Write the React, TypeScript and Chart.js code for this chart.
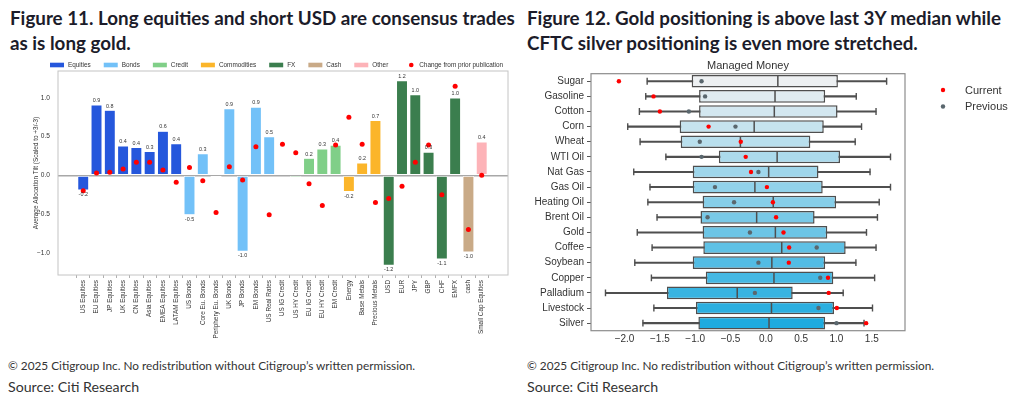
import React, { useEffect, useRef } from 'react';
import { Chart, registerables } from 'chart.js';

Chart.register(...registerables);

// ---------------- Figure 11 data ----------------
const allocCategories = [
  'US Equities', 'EU Equities', 'JP Equities', 'UK Equities', 'CN Equities', 'Asia Equities', 'EMEA Equities', 'LATAM Equities',
  'US Bonds', 'Core Eu. Bonds', 'Periphery Eu. Bonds', 'UK Bonds', 'JP Bonds', 'EM Bonds', 'US Real Rates',
  'US IG Credit', 'US HY Credit', 'EU IG Credit', 'EU HY Credit', 'EM Credit',
  'Energy', 'Base Metals', 'Precious Metals',
  'USD', 'EUR', 'JPY', 'GBP', 'CHF', 'EMFX',
  'cash', 'Small Cap Equities',
];
const allocGroups = [
  'Equities', 'Equities', 'Equities', 'Equities', 'Equities', 'Equities', 'Equities', 'Equities',
  'Bonds', 'Bonds', 'Bonds', 'Bonds', 'Bonds', 'Bonds', 'Bonds',
  'Credit', 'Credit', 'Credit', 'Credit', 'Credit',
  'Commodities', 'Commodities', 'Commodities',
  'FX', 'FX', 'FX', 'FX', 'FX', 'FX',
  'Cash', 'Other',
];
const allocTilt = [
  -0.19, 0.91, 0.84, 0.38, 0.36, 0.31, 0.57, 0.41,
  -0.51, 0.28, -0.02, 0.86, -0.98, 0.88, 0.50,
  -0.01, -0.03, 0.22, 0.34, 0.39,
  -0.21, 0.16, 0.71,
  -1.16, 1.22, 1.04, 0.30, -1.08, 1.00,
  -0.99, 0.43,
];
const changeFromPrior = [
  -0.20, 0.03, 0.04, 0.08, 0.17, 0.17, 0.07, -0.09,
  0.10, -0.07, -0.48, 0.11, -0.06, 0.37, -0.51,
  0.40, 0.29, -0.11, -0.39, 0.39,
  0.75, 0.40, -0.35,
  -0.30, -0.14, 0.17, 0.39, -0.25, 1.15,
  -0.70, 0.00,
];
const allocGroupNames = ['Equities', 'Bonds', 'Credit', 'Commodities', 'FX', 'Cash', 'Other'];
const allocYTicks = [-1.0, -0.5, 0.0, 0.5, 1.0];

// ---------------- Figure 12 data ----------------
const commodities = [
  'Sugar', 'Gasoline', 'Cotton', 'Corn', 'Wheat', 'WTI Oil', 'Nat Gas', 'Gas Oil', 'Heating Oil',
  'Brent Oil', 'Gold', 'Coffee', 'Soybean', 'Copper', 'Palladium', 'Livestock', 'Silver',
];
const whiskerLow = [-1.68, -1.70, -1.79, -1.955, -1.78, -1.415, -1.87, -1.64, -1.67, -1.54, -1.82, -1.61, -1.855, -1.62, -2.27, -1.585, -1.74];
const quartile1 = [-1.05, -0.945, -0.945, -1.22, -1.205, -0.665, -1.035, -1.035, -0.895, -0.925, -0.895, -0.885, -1.035, -0.85, -1.40, -0.99, -0.955];
const medians = [0.17, 0.13, 0.12, -0.165, -0.36, 0.16, 0.04, -0.155, 0.105, -0.13, 0.135, 0.225, 0.085, 0.115, -0.405, 0.08, 0.045];
const quartile3 = [1.02, 0.84, 1.015, 0.82, 0.63, 1.05, 0.745, 0.805, 0.995, 0.69, 0.87, 1.13, 0.84, 0.955, 0.38, 0.965, 0.84];
const whiskerHigh = [1.71, 1.28, 1.56, 1.355, 1.265, 1.765, 1.475, 1.765, 1.605, 1.58, 1.425, 1.56, 1.275, 1.54, 1.095, 1.51, 1.39];
const currentPos = [-2.08, -1.59, -1.50, -0.81, -0.355, -0.285, -0.21, 0.015, 0.10, 0.145, 0.25, 0.33, 0.325, 0.88, 0.89, 1.005, 1.42];
const previousPos = [-0.91, -0.86, -1.09, -0.43, -0.935, -0.91, -0.105, -0.72, -0.45, -0.825, -0.225, 0.72, -0.105, 0.77, -0.155, 0.745, 1.00];
const mmXTicks = [-2.0, -1.5, -1.0, -0.5, 0.0, 0.5, 1.0, 1.5];

// ---------------- styles ----------------
const FONT = "'Liberation Sans', Arial, sans-serif";
const groupColors: Record<string, string> = {
  Equities: '#2557dc',
  Bonds: '#72c1f8',
  Credit: '#80cf88',
  Commodities: '#fbb52a',
  FX: '#3b7e4e',
  Cash: '#c9aa87',
  Other: '#fdb3b8',
};
const LEGEND_DOT = '#ff0000';

function minusFmt(v: number) {
  const s = Math.abs(v).toFixed(1);
  return v < -1e-9 ? '\u2212' + s : s;
}

function mix(a: number[], b: number[], t: number) {
  const c = a.map((av, i) => Math.round(av + (b[i] - av) * t));
  return `rgb(${c[0]},${c[1]},${c[2]})`;
}

const framePlugin = (color: string, width: number) => ({
  id: 'frame',
  afterDatasetsDraw(chart: any) {
    const { ctx, chartArea: a } = chart;
    ctx.save();
    ctx.strokeStyle = color;
    ctx.lineWidth = width;
    ctx.strokeRect(a.left, a.top, a.right - a.left, a.bottom - a.top);
    ctx.restore();
  },
});

const valueLabelPlugin = {
  id: 'valueLabels',
  afterDatasetsDraw(chart: any) {
    const meta = chart.getDatasetMeta(1);
    const ctx = chart.ctx;
    ctx.save();
    ctx.font = `5.4px ${FONT}`;
    ctx.fillStyle = '#333';
    ctx.textAlign = 'center';
    meta.data.forEach((el: any, i: number) => {
      const v = allocTilt[i];
      if (Math.abs(v) < 0.05) return;
      const txt = v.toFixed(1);
      if (v >= 0) {
        ctx.textBaseline = 'bottom';
        ctx.fillText(txt, el.x, el.y - 1.5);
      } else {
        ctx.textBaseline = 'top';
        ctx.fillText(txt, el.x, el.y + 2);
      }
    });
    ctx.restore();
  },
};

const legend11Plugin = {
  id: 'legend11',
  afterDraw(chart: any) {
    const ctx = chart.ctx;
    ctx.save();
    ctx.font = `6.4px ${FONT}`;
    ctx.textBaseline = 'middle';
    ctx.textAlign = 'left';
    const y = 17;
    let x = 50;
    allocGroupNames.forEach((g) => {
      ctx.fillStyle = groupColors[g];
      ctx.fillRect(x, y - 2.3, 14, 4.6);
      ctx.fillStyle = '#333';
      ctx.fillText(g, x + 18, y);
      x += 18 + ctx.measureText(g).width + 13;
    });
    const lbl = 'Change from prior publication';
    ctx.fillStyle = LEGEND_DOT;
    ctx.beginPath();
    ctx.arc(x + 10, y, 2.3, 0, Math.PI * 2);
    ctx.fill();
    ctx.fillStyle = '#333';
    ctx.fillText(lbl, x + 18, y);
    ctx.restore();
  },
};

const legend12Plugin = {
  id: 'legend12',
  afterDraw(chart: any) {
    const ctx = chart.ctx;
    ctx.save();
    ctx.font = `11px ${FONT}`;
    ctx.textBaseline = 'middle';
    ctx.textAlign = 'left';
    const rows = [
      { label: 'Current', color: '#ff0000', y: 42 },
      { label: 'Previous', color: '#5a676e', y: 58.5 },
    ];
    rows.forEach((r) => {
      ctx.fillStyle = r.color;
      ctx.beginPath();
      ctx.arc(428, r.y, 2.2, 0, Math.PI * 2);
      ctx.fill();
      ctx.fillStyle = '#333';
      ctx.fillText(r.label, 450, r.y + 0.5);
    });
    ctx.restore();
  },
};

function AllocationChart() {
  const ref = useRef<HTMLCanvasElement | null>(null);
  useEffect(() => {
    if (!ref.current) return;
    const small = { family: FONT, size: 6.4 };
    const chart = new Chart(ref.current, {
      type: 'bar',
      data: {
        datasets: [
          {
            type: 'scatter',
            label: 'Change from prior publication',
            data: changeFromPrior.map((v, i) => ({ x: i, y: v })),
            backgroundColor: '#ff0000',
            borderColor: '#ff0000',
            pointRadius: 2.5,
            pointBorderWidth: 0,
          } as any,
          {
            type: 'bar',
            label: 'Average Allocation Tilt',
            data: allocTilt.map((v, i) => ({ x: i, y: v })),
            backgroundColor: allocGroups.map((g) => groupColors[g]),
            borderColor: '#ffffff',
            borderWidth: 0.6,
            borderSkipped: false,
            barPercentage: 0.84,
            categoryPercentage: 1,
          } as any,
        ],
      },
      options: {
        animation: false,
        responsive: false,
        maintainAspectRatio: false,
        events: [],
        layout: { padding: { left: 0, right: 7, top: 23, bottom: 0 } },
        plugins: { legend: { display: false }, tooltip: { enabled: false }, title: { display: false } },
        scales: {
          x: {
            type: 'linear',
            min: -1.9,
            max: 31.98,
            offset: false,
            afterBuildTicks: (ax: any) => {
              ax.ticks = allocCategories.map((_, i) => ({ value: i }));
            },
            afterFit: (ax: any) => {
              ax.height = 65;
            },
            ticks: {
              autoSkip: false,
              minRotation: 90,
              maxRotation: 90,
              padding: 2,
              color: '#333',
              font: small,
              callback: (v: any) => allocCategories[Math.round(Number(v))] ?? '',
            },
            grid: { display: true, drawOnChartArea: false, drawTicks: true, tickLength: 3, color: '#b0b0b0' },
            border: { display: false },
          },
          y: {
            type: 'linear',
            min: -1.286,
            max: 1.346,
            afterBuildTicks: (ax: any) => {
              ax.ticks = allocYTicks.map((v) => ({ value: v }));
            },
            afterFit: (ax: any) => {
              ax.width = 58;
            },
            ticks: { padding: 8, color: '#333', font: { family: FONT, size: 6.6 }, callback: (v: any) => minusFmt(Number(v)) },
            grid: {
              drawTicks: false,
              lineWidth: 1.5,
              color: (c: any) => (c.tick && Math.abs(c.tick.value) < 1e-9 ? '#a8a8a8' : 'rgba(0,0,0,0)'),
            },
            border: { display: false },
            title: {
              display: true,
              text: 'Average Allocation Tilt (Scaled to +3/-3)',
              color: '#333',
              font: small,
              padding: { top: 32, bottom: 0 },
            },
          },
        },
      } as any,
      plugins: [framePlugin('#c4c4c4', 1), valueLabelPlugin, legend11Plugin],
    });
    return () => chart.destroy();
  }, []);
  return <canvas ref={ref} width={515} height={292} style={{ position: 'absolute', left: 0, top: 48, width: 515, height: 292 }} />;
}

function ManagedMoneyChart() {
  const ref = useRef<HTMLCanvasElement | null>(null);
  useEffect(() => {
    if (!ref.current) return;
    const light = [237, 240, 242];
    const dark = [30, 171, 223];
    const boxColors = commodities.map((_, i) => mix(light, dark, i / (commodities.length - 1)));
    const edge = '#4f4f4f';
    const tickFont = { family: FONT, size: 10 };
    const chart = new Chart(ref.current, {
      type: 'bar',
      data: {
        labels: commodities,
        datasets: [
          {
            type: 'scatter',
            label: 'Current',
            data: commodities.map((c, i) => ({ x: currentPos[i], y: c })),
            backgroundColor: '#ff0000',
            pointRadius: 2.2,
            pointBorderWidth: 0,
          } as any,
          {
            type: 'scatter',
            label: 'Previous',
            data: commodities.map((c, i) => ({ x: previousPos[i], y: c })),
            backgroundColor: '#5a676e',
            pointRadius: 2.2,
            pointBorderWidth: 0,
          } as any,
          {
            type: 'scatter',
            label: 'Median',
            data: commodities.map((c, i) => ({ x: medians[i], y: c })),
            pointStyle: 'line',
            pointRotation: 90,
            pointRadius: 5.6,
            pointBorderColor: edge,
            pointBorderWidth: 1.5,
          } as any,
          {
            type: 'scatter',
            label: 'Caps',
            data: commodities
              .map((c, i) => ({ x: whiskerLow[i], y: c }))
              .concat(commodities.map((c, i) => ({ x: whiskerHigh[i], y: c }))),
            pointStyle: 'line',
            pointRotation: 90,
            pointRadius: 3.4,
            pointBorderColor: edge,
            pointBorderWidth: 1.4,
          } as any,
          {
            type: 'bar',
            label: 'IQR',
            data: commodities.map((_, i) => [quartile1[i], quartile3[i]]),
            backgroundColor: boxColors,
            borderColor: edge,
            borderWidth: 1.5,
            borderSkipped: false,
            grouped: false,
            barPercentage: 0.84,
            categoryPercentage: 1,
          } as any,
          {
            type: 'bar',
            label: 'Whiskers',
            data: commodities.map((_, i) => [whiskerLow[i], whiskerHigh[i]]),
            backgroundColor: edge,
            borderWidth: 0,
            grouped: false,
            barThickness: 1.4,
          } as any,
        ],
      },
      options: {
        indexAxis: 'y',
        animation: false,
        responsive: false,
        maintainAspectRatio: false,
        events: [],
        layout: { padding: { left: 0, right: 119, top: 0, bottom: 0 } },
        plugins: {
          legend: { display: false },
          tooltip: { enabled: false },
          title: {
            display: true,
            text: 'Managed Money',
            fullSize: false,
            color: '#333',
            font: { family: FONT, size: 11, weight: 'normal' },
            padding: { top: 11, bottom: 1.5 },
          },
        },
        scales: {
          x: {
            type: 'linear',
            min: -2.475,
            max: 1.97,
            afterBuildTicks: (ax: any) => {
              ax.ticks = mmXTicks.map((v) => ({ value: v }));
            },
            afterFit: (ax: any) => {
              ax.height = 17.3;
            },
            ticks: { padding: 3, color: '#333', font: tickFont, callback: (v: any) => minusFmt(Number(v)) },
            grid: { display: false, drawTicks: false },
            border: { display: false },
          },
          y: {
            type: 'category',
            offset: true,
            afterFit: (ax: any) => {
              ax.width = 76;
            },
            ticks: { padding: 3, color: '#333', font: tickFont, autoSkip: false },
            grid: { display: true, drawOnChartArea: false, drawTicks: true, tickLength: 4, color: '#555', offset: false },
            border: { display: false },
          },
        },
      } as any,
      plugins: [framePlugin('#8c8c8c', 1.2), legend12Plugin],
    });
    return () => chart.destroy();
  }, []);
  return <canvas ref={ref} width={509} height={300} style={{ position: 'absolute', left: 515, top: 48, width: 509, height: 300 }} />;
}

const headStyle: React.CSSProperties = {
  position: 'absolute',
  top: 5,
  fontFamily: "Lato, 'Noto Sans', sans-serif",
  fontWeight: 700,
  fontSize: 18.8,
  lineHeight: '25px',
  color: '#1c1c2a',
  whiteSpace: 'nowrap',
};
const footBase: React.CSSProperties = {
  position: 'absolute',
  fontFamily: "Lato, 'Noto Sans', sans-serif",
  color: '#333',
  whiteSpace: 'nowrap',
  lineHeight: '20px',
};
const copyStyle: React.CSSProperties = { ...footBase, top: 356, fontSize: 11.8 };
const sourceStyle: React.CSSProperties = { ...footBase, top: 377, fontSize: 14.2 };

export default function App() {
  return (
    <div style={{ position: 'absolute', left: 0, top: 0, width: 1024, height: 396, background: '#ffffff', overflow: 'hidden' }}>
      <div style={{ ...headStyle, left: 10 }}>
        Figure 11. Long equities and short USD are consensus trades
        <br />
        as is long gold.
      </div>
      <div style={{ ...headStyle, left: 527 }}>
        Figure 12. Gold positioning is above last 3Y median while
        <br />
        CFTC silver positioning is even more stretched.
      </div>
      <AllocationChart />
      <ManagedMoneyChart />
      <div style={{ ...copyStyle, left: 8 }}>© 2025 Citigroup Inc. No redistribution without Citigroup’s written permission.</div>
      <div style={{ ...sourceStyle, left: 8 }}>Source: Citi Research</div>
      <div style={{ ...copyStyle, left: 527 }}>© 2025 Citigroup Inc. No redistribution without Citigroup’s written permission.</div>
      <div style={{ ...sourceStyle, left: 527 }}>Source: Citi Research</div>
    </div>
  );
}
